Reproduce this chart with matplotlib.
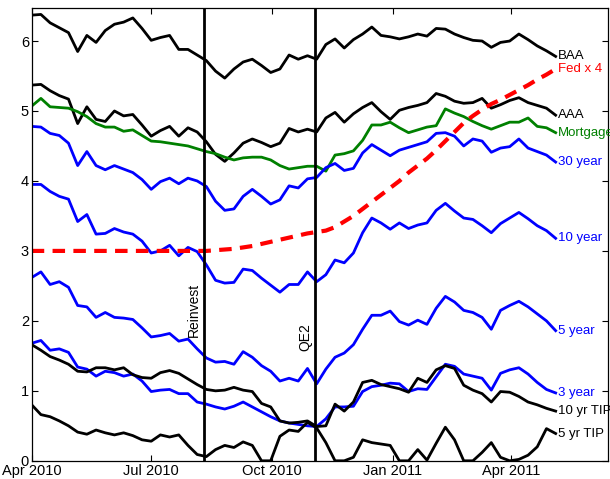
import matplotlib
matplotlib.use("Agg")
import matplotlib.pyplot as plt
import matplotlib.dates as mdates
import pandas as pd

plt.rcParams['font.family'] = ['Liberation Sans', 'DejaVu Sans']

# weekly observations, Apr 2010 - May 2011
dates = pd.date_range('2010-04-01', periods=58, freq='7D')

baa = [6.37, 6.38, 6.26, 6.19, 6.12, 5.85, 6.08, 5.98, 6.15, 6.24,
       6.27, 6.33, 6.18, 6.01, 6.05, 6.08, 5.88, 5.88, 5.80, 5.72,
       5.57, 5.47, 5.60, 5.70, 5.74, 5.65, 5.55, 5.60, 5.80, 5.74,
       5.79, 5.74, 5.95, 6.03, 5.90, 6.02, 6.10, 6.20, 6.08, 6.06,
       6.03, 6.06, 6.10, 6.07, 6.18, 6.17, 6.10, 6.05, 6.01, 6.00,
       5.91, 5.98, 6.00, 6.10, 6.02, 5.93, 5.86, 5.78]
aaa = [5.37, 5.38, 5.29, 5.22, 5.17, 4.82, 5.06, 4.88, 4.85, 5.00,
       4.93, 4.95, 4.80, 4.64, 4.72, 4.78, 4.64, 4.76, 4.70, 4.56,
       4.38, 4.28, 4.40, 4.54, 4.60, 4.55, 4.49, 4.54, 4.75, 4.70,
       4.74, 4.70, 4.90, 4.98, 4.84, 4.96, 5.05, 5.12, 4.99, 4.88,
       5.01, 5.05, 5.08, 5.12, 5.25, 5.21, 5.14, 5.11, 5.12, 5.18,
       5.04, 5.09, 5.15, 5.19, 5.12, 5.08, 5.04, 4.94]
mortgage = [5.07, 5.18, 5.06, 5.05, 5.04, 4.99, 4.92, 4.82, 4.77, 4.77,
            4.71, 4.73, 4.65, 4.57, 4.56, 4.54, 4.52, 4.50, 4.46, 4.42,
            4.39, 4.34, 4.30, 4.33, 4.34, 4.34, 4.30, 4.22, 4.17, 4.19,
            4.21, 4.21, 4.14, 4.37, 4.39, 4.43, 4.58, 4.80, 4.80, 4.84,
            4.76, 4.69, 4.73, 4.77, 4.79, 5.03, 4.97, 4.92, 4.85, 4.79,
            4.74, 4.79, 4.84, 4.84, 4.90, 4.78, 4.76, 4.69]
y30 = [4.78, 4.77, 4.68, 4.65, 4.54, 4.22, 4.42, 4.22, 4.16, 4.22,
       4.17, 4.12, 4.02, 3.88, 3.99, 4.04, 3.96, 4.04, 4.00, 3.92,
       3.71, 3.58, 3.60, 3.78, 3.88, 3.78, 3.67, 3.73, 3.93, 3.90,
       4.03, 4.05, 4.19, 4.25, 4.15, 4.18, 4.40, 4.52, 4.44, 4.36,
       4.44, 4.48, 4.52, 4.56, 4.68, 4.69, 4.64, 4.50, 4.60, 4.57,
       4.41, 4.47, 4.49, 4.60, 4.47, 4.42, 4.37, 4.27]
fed4 = [3.00] * 20 + [
        3.01, 3.02, 3.03, 3.05, 3.07, 3.10, 3.13, 3.16, 3.19, 3.22,
        3.25, 3.27, 3.29, 3.34, 3.42, 3.50, 3.60, 3.70, 3.80, 3.90,
        4.00, 4.12, 4.22, 4.32, 4.44, 4.57, 4.70, 4.83, 4.93, 5.02,
        5.10, 5.16, 5.23, 5.30, 5.37, 5.45, 5.52, 5.60]
y10 = [3.95, 3.95, 3.85, 3.78, 3.74, 3.42, 3.52, 3.24, 3.25, 3.32,
       3.27, 3.24, 3.14, 2.97, 3.00, 3.08, 2.93, 3.05, 2.99, 2.80,
       2.58, 2.54, 2.55, 2.74, 2.72, 2.61, 2.51, 2.41, 2.52, 2.52,
       2.70, 2.56, 2.66, 2.87, 2.83, 2.97, 3.26, 3.47, 3.40, 3.31,
       3.40, 3.32, 3.37, 3.40, 3.58, 3.68, 3.57, 3.47, 3.45, 3.36,
       3.26, 3.39, 3.47, 3.55, 3.46, 3.36, 3.29, 3.18]
y5 = [2.62, 2.70, 2.52, 2.56, 2.48, 2.22, 2.20, 2.05, 2.12, 2.05,
      2.04, 2.02, 1.90, 1.77, 1.79, 1.82, 1.71, 1.74, 1.60, 1.47,
      1.41, 1.42, 1.38, 1.56, 1.48, 1.36, 1.28, 1.14, 1.18, 1.14,
      1.32, 1.10, 1.31, 1.48, 1.54, 1.66, 1.88, 2.08, 2.08, 2.14,
      1.99, 1.94, 2.01, 1.95, 2.18, 2.35, 2.27, 2.15, 2.12, 2.05,
      1.88, 2.15, 2.22, 2.28, 2.20, 2.10, 2.00, 1.86]
y3 = [1.68, 1.72, 1.58, 1.60, 1.55, 1.34, 1.31, 1.21, 1.28, 1.26,
      1.21, 1.24, 1.14, 0.99, 1.01, 1.02, 0.96, 0.96, 0.84, 0.81,
      0.77, 0.74, 0.78, 0.84, 0.77, 0.70, 0.63, 0.57, 0.54, 0.52,
      0.50, 0.49, 0.60, 0.77, 0.77, 0.78, 0.99, 1.06, 1.08, 1.11,
      1.10, 0.99, 1.03, 1.02, 1.20, 1.38, 1.35, 1.24, 1.21, 1.18,
      1.01, 1.25, 1.30, 1.33, 1.24, 1.12, 1.02, 0.97]
tip10 = [1.66, 1.58, 1.49, 1.44, 1.38, 1.28, 1.27, 1.33, 1.33, 1.30,
         1.33, 1.23, 1.19, 1.18, 1.26, 1.29, 1.25, 1.17, 1.09, 1.02,
         1.00, 1.01, 1.05, 1.01, 0.99, 0.82, 0.77, 0.57, 0.54, 0.55,
         0.57, 0.49, 0.50, 0.81, 0.71, 0.84, 1.12, 1.15, 1.09, 1.06,
         1.03, 0.98, 1.18, 1.12, 1.30, 1.36, 1.32, 1.08, 1.01, 0.96,
         0.84, 0.99, 0.98, 0.92, 0.84, 0.80, 0.75, 0.71]
tip5 = [0.80, 0.66, 0.63, 0.57, 0.50, 0.41, 0.38, 0.44, 0.40, 0.37,
        0.40, 0.36, 0.30, 0.28, 0.37, 0.34, 0.37, 0.22, 0.09, 0.06,
        0.16, 0.22, 0.19, 0.27, 0.22, 0.00, 0.00, 0.35, 0.44, 0.42,
        0.55, 0.47, 0.26, 0.00, 0.00, 0.05, 0.30, 0.26, 0.24, 0.22,
        0.00, 0.00, 0.16, 0.01, 0.25, 0.48, 0.30, 0.00, 0.00, 0.12,
        0.26, 0.05, 0.00, 0.02, 0.08, 0.20, 0.46, 0.39]

events = ['2010-08-10', '2010-11-03']
event_labels = ['Reinvest', 'QE2']
event_label_y = [2.16, 1.77]

blue = '#0000ff'
green = '#008000'
red = '#ff0000'

series = [
    (baa, 'k', 'BAA'),
    (aaa, 'k', 'AAA'),
    (mortgage, green, 'Mortgage'),
    (y30, blue, '30 year'),
    (y10, blue, '10 year'),
    (y5, blue, '5 year'),
    (y3, blue, '3 year'),
    (tip10, 'k', '10 yr TIP'),
    (tip5, 'k', '5 yr TIP'),
]

fig = plt.figure(figsize=(6.10, 4.79), dpi=100)
ax = fig.add_axes([0.052, 0.038, 0.945, 0.945])

for vals, col, name in series:
    ax.plot(dates, vals, color=col, lw=2)
ax.plot(dates, fed4, color=red, lw=3, ls=(0, (3, 2)))

# end-of-line labels
lab_x = dates[-1] + pd.Timedelta(days=2)
for vals, col, name in series:
    ax.text(lab_x, vals[-1], name, color=col, fontsize=9.5,
            ha='left', va='center')
ax.text(lab_x, fed4[-1], 'Fed x 4', color=red, fontsize=9.5,
        ha='left', va='center')

for d, lab, ly in zip(events, event_labels, event_label_y):
    d = pd.Timestamp(d)
    ax.axvline(d, color='k', lw=2)
    ax.text(d - pd.Timedelta(days=2), ly, lab, rotation=90,
            ha='right', va='center', fontsize=10)

ax.set_xlim(pd.Timestamp('2010-04-01'), pd.Timestamp('2011-06-14'))
ax.set_ylim(0, 6.47)
ax.set_yticks(range(0, 7))
ax.xaxis.set_major_locator(mdates.MonthLocator(bymonth=[1, 4, 7, 10]))
ax.xaxis.set_major_formatter(mdates.DateFormatter('%b %Y'))
ax.tick_params(direction='in', top=True, right=True, labelsize=10.5,
               length=4, width=0.8, pad=2)
for s in ax.spines.values():
    s.set_linewidth(0.9)

fig.savefig('out.png', dpi=100)
